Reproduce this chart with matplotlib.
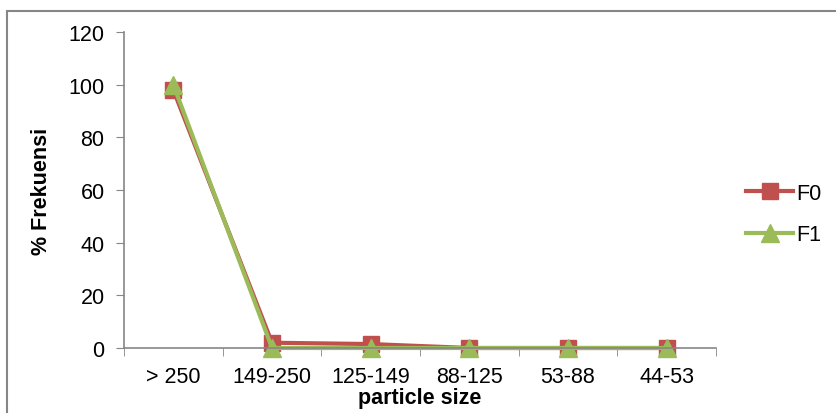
import matplotlib.pyplot as plt
from matplotlib.patches import Rectangle
from matplotlib.lines import Line2D

plt.rcParams['font.family'] = ['Liberation Sans', 'DejaVu Sans']

# data
sizes = ["> 250", "149-250", "125-149", "88-125", "53-88", "44-53"]
f0 = [98, 2, 1.5, 0, 0, 0]
f1 = [100, 0, 0, 0, 0, 0]

red = "#C0504D"
green = "#9BBB59"
axcol = "#868686"
fs = 15.5

fig = plt.figure(figsize=(8.36, 4.14), dpi=100)
# chart border (cut off at right / bottom)
fig.patches.append(Rectangle((7/836, -0.05), 1.1, 1 - 12/414 + 0.05, transform=fig.transFigure,
                             fill=False, edgecolor=axcol, linewidth=1.5))

ax = fig.add_axes([124/836, 1 - 349/414, (716 - 124)/836, (349 - 33)/414])
x = list(range(len(sizes)))
ax.plot(x, f0, color=red, linewidth=3, marker='s', markersize=12, label="F0", clip_on=False)
ax.plot(x, f1, color=green, linewidth=3, marker='^', markersize=13, label="F1", clip_on=False)

ax.set_xlim(-0.5, len(sizes) - 0.5)
ax.set_ylim(0, 120)
ax.set_yticks(range(0, 121, 20))
ax.set_xticks(x)
ax.set_xticklabels(sizes, fontsize=fs)
ax.set_xticks([i - 0.5 for i in range(len(sizes) + 1)], minor=True)
ax.tick_params(axis='x', which='major', length=0, pad=13)
ax.tick_params(axis='x', which='minor', length=6, color=axcol, direction='out')
ax.tick_params(axis='y', length=6, color=axcol, labelsize=fs, pad=8)
for s in ['top', 'right']:
    ax.spines[s].set_visible(False)
for s in ['left', 'bottom']:
    ax.spines[s].set_color(axcol)
    ax.spines[s].set_linewidth(1.2)

ax.set_ylabel("% Frekuensi", fontsize=fs, fontweight='bold', labelpad=12)
ax.set_xlabel("particle size", fontsize=fs, fontweight='bold', labelpad=0)

handles = [Line2D([], [], color=red, linewidth=3, marker='s', markersize=12),
           Line2D([], [], color=green, linewidth=3, marker='^', markersize=13)]
fig.legend(handles, ["F0", "F1"], loc='center left', bbox_to_anchor=(746/836, 1 - 215/414),
           frameon=False, fontsize=fs, borderpad=0, borderaxespad=0,
           handlelength=2.2, handletextpad=0.15, labelspacing=0.95)

fig.savefig("out.png", dpi=100)
